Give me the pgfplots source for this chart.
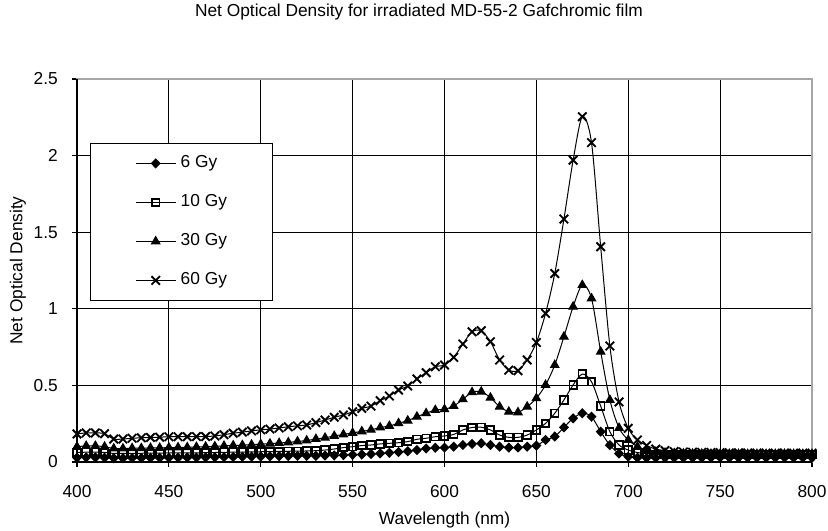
\documentclass[border=0pt]{standalone}
\usepackage{fontspec}
\setmainfont{Liberation Sans}
\usepackage{pgfplots}
\usepackage{pgfplotstable}
\pgfplotsset{compat=1.18}

% Net optical density of MD-55-2 film, read every 5 nm
\pgfplotstableread{
wl   g6    g10   g30   g60
400 0.028 0.062 0.100 0.183
405 0.030 0.064 0.105 0.190
410 0.030 0.064 0.105 0.190
415 0.028 0.062 0.100 0.185
420 0.025 0.056 0.088 0.150
425 0.025 0.056 0.088 0.150
430 0.026 0.057 0.090 0.155
435 0.026 0.057 0.090 0.158
440 0.027 0.058 0.092 0.160
445 0.027 0.058 0.092 0.162
450 0.028 0.059 0.094 0.165
455 0.028 0.059 0.095 0.165
460 0.029 0.060 0.096 0.165
465 0.029 0.060 0.098 0.166
470 0.030 0.061 0.100 0.166
475 0.031 0.062 0.102 0.170
480 0.032 0.063 0.105 0.178
485 0.033 0.064 0.108 0.188
490 0.034 0.065 0.110 0.195
495 0.035 0.066 0.113 0.203
500 0.036 0.067 0.116 0.210
505 0.037 0.068 0.120 0.215
510 0.038 0.069 0.124 0.222
515 0.039 0.070 0.128 0.230
520 0.040 0.071 0.134 0.236
525 0.040 0.072 0.140 0.242
530 0.040 0.074 0.150 0.257
535 0.042 0.078 0.158 0.274
540 0.043 0.085 0.170 0.292
545 0.045 0.094 0.180 0.307
550 0.047 0.100 0.190 0.328
555 0.049 0.107 0.200 0.350
560 0.052 0.111 0.210 0.365
565 0.056 0.118 0.225 0.400
570 0.060 0.122 0.235 0.431
575 0.065 0.126 0.253 0.470
580 0.070 0.133 0.270 0.496
585 0.078 0.148 0.296 0.542
590 0.088 0.155 0.318 0.583
595 0.093 0.165 0.339 0.622
600 0.094 0.170 0.344 0.633
605 0.100 0.180 0.365 0.683
610 0.111 0.209 0.409 0.770
615 0.118 0.225 0.455 0.850
620 0.122 0.227 0.459 0.857
625 0.111 0.209 0.420 0.785
630 0.100 0.176 0.361 0.666
635 0.094 0.161 0.328 0.600
640 0.094 0.161 0.324 0.596
645 0.100 0.176 0.361 0.666
650 0.107 0.209 0.416 0.780
655 0.144 0.252 0.503 0.970
660 0.166 0.318 0.633 1.230
665 0.226 0.405 0.818 1.586
670 0.285 0.503 1.014 1.970
675 0.318 0.574 1.155 2.254
680 0.296 0.524 1.068 2.085
685 0.198 0.365 0.720 1.405
690 0.110 0.198 0.405 0.757
695 0.055 0.111 0.222 0.392
700 0.035 0.078 0.144 0.220
705 0.028 0.062 0.100 0.144
710 0.027 0.055 0.078 0.108
715 0.027 0.051 0.066 0.084
720 0.028 0.050 0.060 0.075
725 0.028 0.049 0.057 0.068
730 0.028 0.049 0.055 0.065
735 0.028 0.048 0.054 0.064
740 0.028 0.048 0.054 0.063
745 0.029 0.048 0.053 0.062
750 0.029 0.048 0.053 0.061
755 0.028 0.047 0.053 0.060
760 0.028 0.047 0.052 0.060
765 0.028 0.047 0.052 0.059
770 0.028 0.047 0.052 0.059
775 0.028 0.047 0.052 0.058
780 0.028 0.047 0.052 0.058
785 0.029 0.048 0.053 0.059
790 0.028 0.047 0.052 0.058
795 0.028 0.047 0.052 0.058
800 0.028 0.047 0.052 0.058
}\spectra

\begin{document}
\begin{tikzpicture}
\useasboundingbox (-57.75pt,-51.75pt) rectangle (563.25pt,346.5pt);
\begin{axis}[
  at={(0,0)}, anchor=south west,
  scale only axis, width=551.25pt, height=287.25pt,
  xmin=400, xmax=800, ymin=0, ymax=2.5,
  xtick={400,450,...,800},
  ytick={0,0.5,1,1.5,2,2.5},
  grid=major,
  major grid style={black, line width=0.9pt},
  axis line style={draw=gray!70, line width=1.3pt},
  tick align=outside, xtick pos=bottom, ytick pos=left,
  major tick length=3.75pt,
  tick style={black, line width=0.8pt},
  font=\fontsize{13}{15}\selectfont,
  /pgf/number format/assume math mode=true,
  yticklabel style={/pgf/number format/fixed, anchor=east, inner sep=0pt,
    xshift=-10.5pt},
  xticklabel style={/pgf/number format/1000 sep={}, anchor=center,
    inner sep=0pt, yshift=-18.5pt},
  title={Net Optical Density for irradiated MD-55-2 Gafchromic film},
  title style={at={(axis description cs:0.4653,1.154)}, anchor=center},
  xlabel={Wavelength (nm)},
  xlabel style={at={(axis description cs:0.5,-0.1514)}, anchor=center},
  ylabel={Net Optical Density},
  ylabel style={at={(axis description cs:-0.0803,0.5)}, anchor=center},
  legend image code/.code={%
    \draw[mark repeat=2,mark phase=2,#1]
      plot coordinates {(0pt,0pt) (14.6pt,0pt) (29.25pt,0pt)};},
  legend style={at={(0,1)}, anchor=north west, xshift=9.75pt, yshift=-48pt,
    draw=black, line width=0.6pt, fill=white,
    inner xsep=34pt, inner ysep=8.75pt, row sep=16.75pt, column sep=3.75pt,
    nodes={inner sep=0pt, text height=9.5pt, text depth=3pt},
    font=\fontsize{13}{15}\selectfont},
  legend cell align=left,
  after end axis/.code={
    \draw[black, line width=1.3pt] (rel axis cs:0,1) -- (rel axis cs:0,0) -- (rel axis cs:1,0);
  },
]
\addplot[black, line width=0.75pt, smooth, mark=diamond*, mark size=3.3pt,
  mark options={solid, fill=black, xscale=1.3}] table[x=wl, y=g6] {\spectra};
\addplot[black, line width=0.75pt, smooth, mark=square, mark size=2.8pt,
  mark options={solid, fill=white, line width=1.3pt}] table[x=wl, y=g10] {\spectra};
\addplot[black, line width=0.75pt, smooth, mark=triangle*, mark size=3.6pt,
  mark options={solid, fill=black}] table[x=wl, y=g30] {\spectra};
\addplot[black, line width=0.75pt, smooth, mark=x, mark size=4.5pt,
  mark options={solid, line width=1.4pt}] table[x=wl, y=g60] {\spectra};
\legend{6 Gy, 10 Gy, 30 Gy, 60 Gy}
\end{axis}
\end{tikzpicture}
\end{document}
